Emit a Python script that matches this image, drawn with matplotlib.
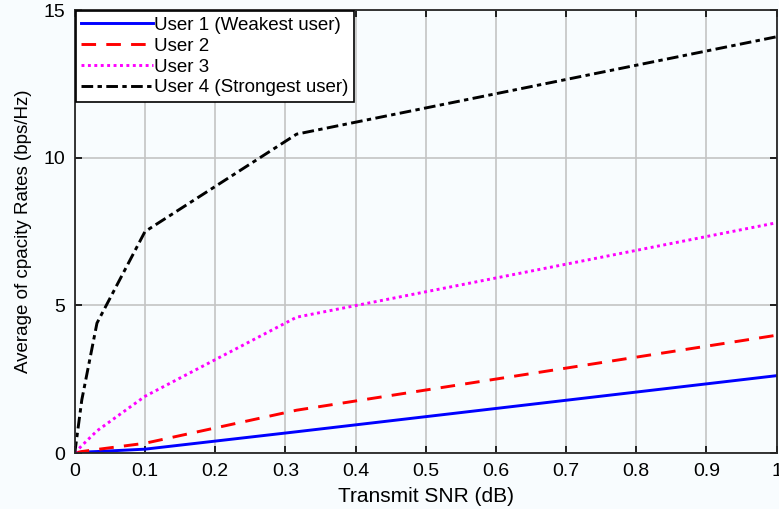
import matplotlib.pyplot as plt

plt.rcParams['font.family'] = ['Liberation Sans', 'DejaVu Sans']

# SNR sample points and rates per user
snr = [0, 0.01, 0.0316, 0.1, 0.316, 1.0]
user1 = [0, 0.03, 0.05, 0.13, 0.72, 2.62]
user2 = [0, 0.05, 0.12, 0.33, 1.45, 3.99]
user3 = [0, 0.25, 0.75, 1.92, 4.6, 7.8]
user4 = [0, 1.8, 4.4, 7.5, 10.8, 14.1]

labels = ['User 1 (Weakest user)', 'User 2', 'User 3', 'User 4 (Strongest user)']
bg = '#f8fcfe'

fig = plt.figure(figsize=(7.79, 5.09), dpi=100, facecolor=bg)
ax = fig.add_axes([0.096, 0.110, 0.901, 0.870], facecolor=bg)

ax.plot(snr, user1, color='#0000ff', lw=2.1, ls='-', label=labels[0])
ax.plot(snr, user2, color='#ff0000', lw=2.1, ls=(0, (5, 3.5)), label=labels[1])
ax.plot(snr, user3, color='#ff00ff', lw=2.1, ls=(0, (1, 1.2)), label=labels[2])
ax.plot(snr, user4, color='#000000', lw=2.1, ls=(0, (4, 1.5, 1.5, 1.5)), label=labels[3])

ax.set_xlim(0, 1)
ax.set_ylim(0, 15)
ax.set_xticks([0, 0.1, 0.2, 0.3, 0.4, 0.5, 0.6, 0.7, 0.8, 0.9, 1])
ax.set_xticklabels(['0', '0.1', '0.2', '0.3', '0.4', '0.5', '0.6', '0.7', '0.8', '0.9', '1'])
ax.set_yticks([0, 5, 10, 15])
ax.grid(True, color='#c4c4c4', lw=1.2)
ax.tick_params(direction='in', top=True, right=True, labelsize=14, length=5, width=1.2, pad=7)
for s in ax.spines.values():
    s.set_linewidth(1.3)
    s.set_color('#262626')

ax.set_xlabel('Transmit SNR (dB)', fontsize=15, labelpad=5)
ax.set_ylabel('Average of cpacity Rates (bps/Hz)', fontsize=13.5, labelpad=8)

leg = ax.legend(loc='upper left', fontsize=13.5, handlelength=3.8, handletextpad=0.1,
                borderaxespad=0.05, borderpad=0.3, labelspacing=0.2,
                fancybox=False, framealpha=1, edgecolor='black', facecolor='white')
leg.get_frame().set_linewidth(1.2)

fig.savefig('out.png', dpi=100, facecolor=bg)
